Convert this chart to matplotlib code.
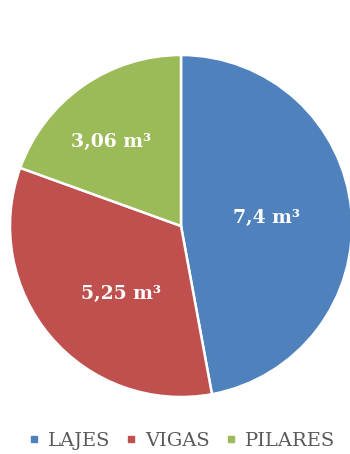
import numpy as np
import matplotlib
matplotlib.use('Agg')
from matplotlib import pyplot as plt
from matplotlib.lines import Line2D

categories = ['LAJES', 'VIGAS', 'PILARES']
volumes = [7.4, 5.25, 3.06]
value_labels = ['7,4 m³', '5,25 m³', '3,06 m³']
colors = ['#4F81BD', '#C0504D', '#9BBB59']
label_dist = [0.50, 0.53, 0.64]
label_turn = [0, 8, 5]  # graus

fig = plt.figure(figsize=(3.5, 4.54), dpi=100)
ax = fig.add_axes([10 / 350, 57 / 454, 342 / 350, 342 / 454])

wedges, _ = ax.pie(volumes, colors=colors, startangle=90, counterclock=False,
                   radius=1, wedgeprops=dict(edgecolor='white', linewidth=1.8))
for w in wedges:
    w.set_clip_on(False)

# rotulos dos valores dentro das fatias
for w, txt, d, t in zip(wedges, value_labels, label_dist, label_turn):
    ang = np.deg2rad((w.theta1 + w.theta2) / 2 + t)
    ax.text(d * np.cos(ang), d * np.sin(ang), txt, ha='center', va='center',
            color='white', fontsize=13.5, fontweight='bold', family='DejaVu Serif')

ax.set_xlim(-1, 1)
ax.set_ylim(-1, 1)
ax.set_aspect('equal')
ax.axis('off')

handles = [Line2D([], [], marker='s', linestyle='', color=c, markersize=4) for c in colors]
leg = fig.legend(handles, categories, loc='center', bbox_to_anchor=(0.52, 1 - 441 / 454),
                 ncol=3, frameon=False, handlelength=0.5, handletextpad=0.45,
                 columnspacing=0.85, prop=dict(family='DejaVu Serif', size=14))
for t in leg.get_texts():
    t.set_color('#595959')

fig.savefig('out.png', dpi=100, facecolor='white')
